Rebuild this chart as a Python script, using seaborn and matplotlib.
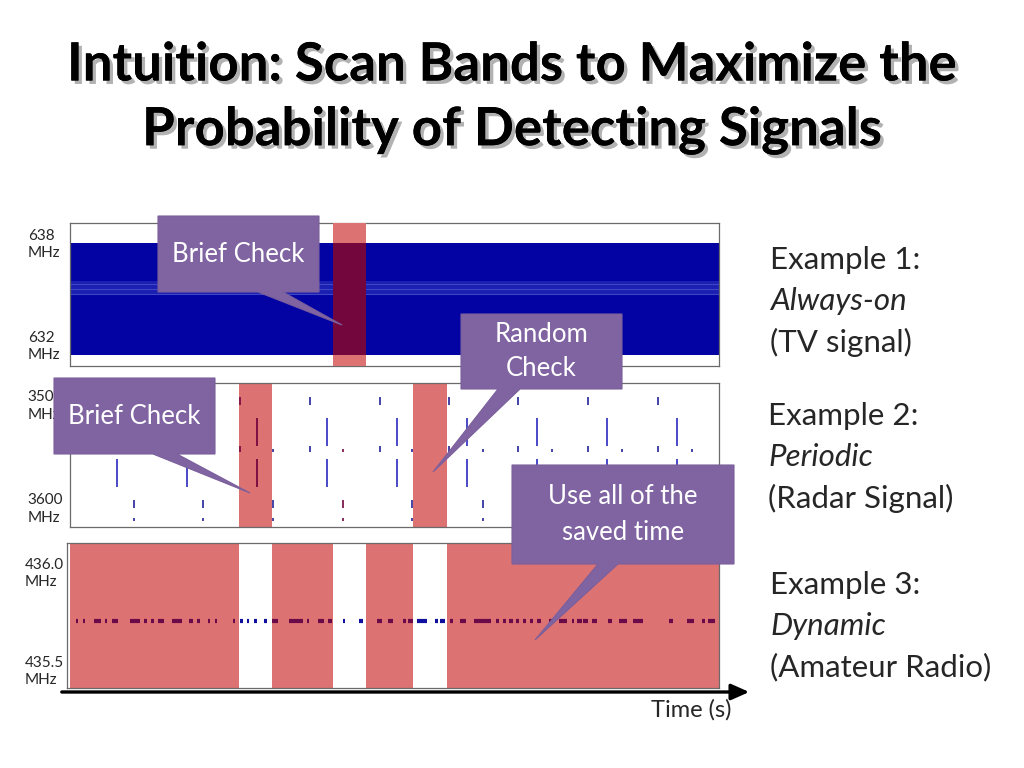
import matplotlib
matplotlib.use("Agg")
import matplotlib.pyplot as plt
import matplotlib.patheffects as pe
from matplotlib.patches import Polygon
import seaborn as sns

# time axis (arbitrary units, 0..649 across each panel)
t_span = [0, 649]
# "brief / random check" windows
tv_check = [(263, 296)]
radar_checks = [(169, 202), (343, 377)]
all_checks = [(169, 202), (263, 296), (343, 377)]

# Example 1: TV signal (MHz)
tv_ticks = [638, 632]
tv_labels = ["638\nMHz", "632\nMHz"]
tv_ylim = (630.65, 639.06)
tv_band = (631.3, 637.9)
tv_light_band = (634.8, 635.65)
tv_streaks = [635.5, 635.2, 634.9]

# Example 2: radar pulses (MHz)
radar_ticks = [3500, 3600]
radar_labels = ["3500\nMHz", "3600\nMHz"]
radar_ylim = (3620.4, 3480.6)
long_pulse_t = [47, 117, 187, 257, 327, 397, 467, 537, 607]
long_pulse_f = [(3515, 3542), (3554, 3582)]
short_tick_t = [30, 100, 170, 240, 310, 379, 448, 518, 588]
short_tick_f = [(3494, 3502), (3542, 3548)]
dot_t = [64, 133, 203, 273, 342, 413, 482, 552, 622]
dot_f = [(3545, 3548), (3594, 3602), (3612, 3615)]

# Example 3: amateur radio bursts (MHz)
ham_ticks = [436.0, 435.5]
ham_labels = ["436.0\nMHz", "435.5\nMHz"]
ham_ylim = (435.398, 436.138)
ham_freq = 435.74
ham_bursts = [(6, 8), (13, 15), (24, 31), (35, 37), (42, 48), (60, 70), (74, 77),
              (81, 84), (88, 94), (102, 112), (119, 123), (127, 130), (138, 140),
              (145, 147), (163, 165), (170, 173), (177, 179), (184, 187), (194, 197),
              (202, 208), (219, 233), (237, 239), (248, 254), (258, 262), (273, 275),
              (289, 293), (307, 312), (318, 323), (333, 336), (338, 343), (347, 357),
              (365, 368), (370, 375), (380, 383), (390, 396), (404, 421), (426, 429),
              (433, 436), (439, 443), (446, 449), (453, 456), (460, 463), (467, 471),
              (479, 483), (489, 497), (502, 504), (507, 512), (513, 518), (522, 527),
              (538, 542), (549, 557), (563, 573), (599, 603), (617, 624), (632, 635),
              (638, 645)]

RED = "#DD7272"
MAROON = "#74063E"
BLUE = "#0303A3"
PULSE = "#3A3AC4"
PURPLE = "#8064A2"

sns.set_theme(style="white")
plt.rcParams["font.family"] = ["Lato", "DejaVu Sans"]


def in_check(t0, t1=None):
    t1 = t0 if t1 is None else t1
    return any(a <= t0 and t1 <= b for a, b in all_checks)


def style_panel(ax, ylim, ticks, labels):
    ax.set_xlim(t_span)
    ax.set_ylim(ylim)
    ax.set_xticks([])
    ax.set_yticks(ticks, labels)
    ax.tick_params(axis="y", length=0, pad=30.5, labelsize=11)
    for lab in ax.get_yticklabels():
        lab.set_horizontalalignment("left")
        lab.set_linespacing(1.35)
    for s in ax.spines.values():
        s.set_color("#6a6a6a")
        s.set_linewidth(0.9)


fig = plt.figure(figsize=(10.24, 7.68), dpi=100)
W, H = 1024, 768


def panel_rect(x0, y0, x1, y1):
    return [x0 / W, 1 - y1 / H, (x1 - x0) / W, (y1 - y0) / H]


# --- panel 1: always-on TV signal
ax1 = fig.add_axes(panel_rect(70, 223, 719, 366))
ax1.fill_between(t_span, tv_band[0], tv_band[1], color=BLUE, lw=0)
ax1.fill_between(t_span, tv_light_band[0], tv_light_band[1], color="#1b20b2", lw=0)
ax1.hlines(tv_streaks, t_span[0], t_span[1], colors="#6d74dc", lw=0.8, alpha=0.45)
for a, b in tv_check:
    ax1.axvspan(a, b, color=RED, lw=0, zorder=3)
    ax1.fill_between([a, b], tv_band[0], tv_band[1], color=MAROON, lw=0, zorder=4)
style_panel(ax1, tv_ylim, tv_ticks, tv_labels)

# --- panel 2: periodic radar
ax2 = fig.add_axes(panel_rect(70, 383, 719, 527))
for a, b in radar_checks:
    ax2.axvspan(a, b, color=RED, lw=0, zorder=1)
for t in long_pulse_t:
    c = MAROON if in_check(t) else PULSE
    for f0, f1 in long_pulse_f:
        ax2.vlines(t, f0, f1, colors=c, lw=1.3, zorder=3)
for t in short_tick_t:
    c = MAROON if in_check(t) else "#24249A"
    for f0, f1 in short_tick_f:
        ax2.vlines(t, f0, f1, colors=c, lw=1.2, zorder=3)
for t in dot_t:
    c = MAROON if in_check(t) else "#24249A"
    for f0, f1 in dot_f:
        ax2.vlines(t, f0, f1, colors=c, lw=1.2, zorder=3)
style_panel(ax2, radar_ylim, radar_ticks, radar_labels)

# --- panel 3: dynamic amateur radio, red = all of the saved time
ax3 = fig.add_axes(panel_rect(67, 543, 719, 688))
edges = [t_span[0]] + [v for w in all_checks for v in w] + [t_span[1]]
for a, b in zip(edges[::2], edges[1::2]):
    ax3.axvspan(a, b, color=RED, lw=0, zorder=1)
starts = [s for s, e in ham_bursts]
ends = [e for s, e in ham_bursts]
cols = ["#10109E" if in_check(s, e) else "#6A0A48" for s, e in ham_bursts]
ax3.hlines([ham_freq] * len(ham_bursts), starts, ends, colors=cols, lw=3.0, zorder=3)
style_panel(ax3, ham_ylim, ham_ticks, ham_labels)
ax3.set_xlim(-3, 649)

# --- overlay in pixel coordinates for slide annotations
ov = fig.add_axes([0, 0, 1, 1])
ov.set_xlim(0, W)
ov.set_ylim(H, 0)
ov.axis("off")
ov.patch.set_visible(False)

title_fx = [pe.withSimplePatchShadow(offset=(2.5, -2.5), shadow_rgbFace="#808080", alpha=0.6),
            pe.Normal()]
ov.text(512, 65, "Intuition: Scan Bands to Maximize the", ha="center", va="center",
        fontsize=38, fontweight="bold", color="black", path_effects=title_fx)
ov.text(512, 130, "Probability of Detecting Signals", ha="center", va="center",
        fontsize=38, fontweight="bold", color="black", path_effects=title_fx)

# time arrow
ov.annotate("", xy=(752, 692), xytext=(59, 692),
            arrowprops=dict(arrowstyle="-|>,head_length=0.9,head_width=0.4", lw=2.4, color="black"))
ov.text(691, 710, "Time (s)", ha="center", va="center", fontsize=17)

# right-hand captions
captions = [
    (770, [("Example 1:", "normal"), ("Always-on", "italic"), ("(TV signal)", "normal")], 260),
    (768, [("Example 2:", "normal"), ("Periodic", "italic"), ("(Radar Signal)", "normal")], 416),
    (770, [("Example 3:", "normal"), ("Dynamic", "italic"), ("(Amateur Radio)", "normal")], 585),
]
for x, lines, y0 in captions:
    for i, (txt, st) in enumerate(lines):
        ov.text(x, y0 + i * 41, txt, ha="left", va="center", fontsize=22.5, style=st)

# callouts: box + pointer
callouts = [
    ((158, 216, 319, 292), (258, 283), (342, 325), "Brief Check"),
    ((461, 314, 622, 389), (498, 520), (433, 472), "Random\nCheck"),
    ((54, 378, 215, 454), (153, 177), (250, 493), "Brief Check"),
    ((512, 465, 734, 564), (598, 618), (535, 640), "Use all of the\nsaved time"),
]
for (x0, y0, x1, y1), (b0, b1), tip, txt in callouts:
    pts = [(x0, y0), (x1, y0), (x1, y1), (b1, y1), tip, (b0, y1), (x0, y1)]
    ov.add_patch(Polygon(pts, closed=True, facecolor=PURPLE, edgecolor="#7a5f9c", lw=0.8, zorder=10))
    ov.text((x0 + x1) / 2, (y0 + y1) / 2, txt, ha="center", va="center", color="white",
            fontsize=18.5, linespacing=1.5, zorder=11)

fig.savefig("out.png", dpi=100)
